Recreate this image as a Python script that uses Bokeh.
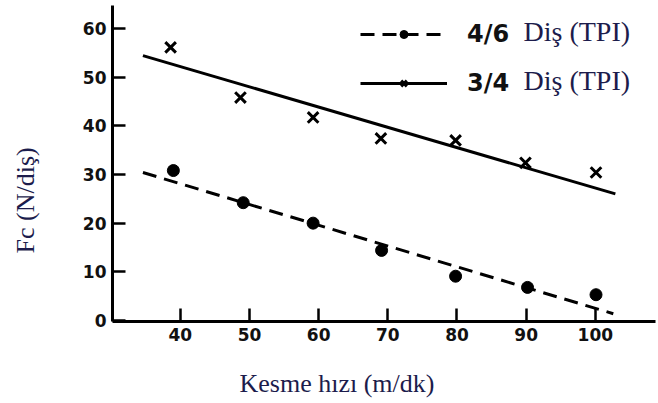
from bokeh.plotting import figure
from bokeh.models import Range1d, Legend, LegendItem, Label, FixedTicker, Title, LinearAxis
from bokeh.embed import file_html
from bokeh.resources import INLINE

# --- data ---
speed_46 = [39.0, 49.1, 59.2, 69.1, 79.8, 90.2, 100.1]
fc_46 = [30.8, 24.2, 20.0, 14.4, 9.1, 6.8, 5.3]
speed_34 = [38.6, 48.7, 59.2, 69.0, 79.8, 89.9, 100.1]
fc_34 = [56.1, 45.8, 41.7, 37.4, 37.0, 32.4, 30.4]

fit_x_46 = [34.6, 102.6]
fit_y_46 = [30.4, 1.4]
fit_x_34 = [34.6, 102.9]
fit_y_34 = [54.4, 26.0]

x_ticks = [40, 50, 60, 70, 80, 90, 100]
y_ticks = [0, 10, 20, 30, 40, 50, 60]

label_46 = "4/6"
label_34 = "3/4"
unit_label = "Diş (TPI)"
x_title = "Kesme hızı (m/dk)"
y_title = "Fc (N/diş)"

serif_color = "#1c1c4c"

X0, X1 = 30.2, 108.7
Y0, Y1 = -0.2, 64.7

p = figure(width=658, height=403,
           x_range=Range1d(X0, X1), y_range=Range1d(Y0, Y1),
           output_backend="svg", toolbar_location=None,
           min_border_left=112, min_border_right=3,
           min_border_top=5, min_border_bottom=82)
p.outline_line_color = None
p.grid.visible = False
p.background_fill_color = "white"
p.border_fill_color = "white"

for ax, ticks in ((p.xaxis, x_ticks), (p.yaxis, y_ticks)):
    ax.ticker = FixedTicker(ticks=ticks)
    ax.axis_line_width = 3
    ax.axis_line_color = "black"
    ax.major_tick_in = 13
    ax.major_tick_out = 0
    ax.major_tick_line_width = 2.5
    ax.minor_tick_line_color = None
    ax.major_label_text_font = "DejaVu Sans"
    ax.major_label_text_font_style = "bold"
    ax.major_label_text_font_size = "17px"
    ax.major_label_text_color = "#111111"
    ax.major_label_standoff = 6

# --- series ---
l46 = p.line(fit_x_46, fit_y_46, line_color="black", line_width=3, line_dash="14 8")
s46 = p.scatter(speed_46, fc_46, marker="circle", size=12, fill_color="black", line_color="black")
l34 = p.line(fit_x_34, fit_y_34, line_color="black", line_width=3)
s34 = p.scatter(speed_34, fc_34, marker="x", size=15, line_color="black", line_width=3)

legend = Legend(items=[LegendItem(label=label_46, renderers=[l46, s46]),
                       LegendItem(label=label_34, renderers=[l34, s34])],
                location=(248, 224))
legend.glyph_width = 87
legend.glyph_height = 20
legend.label_height = 20
legend.spacing = 21
legend.padding = 0
legend.margin = 0
legend.label_standoff = 20
legend.border_line_color = None
legend.background_fill_alpha = 0
legend.label_text_font = "DejaVu Sans"
legend.label_text_font_style = "bold"
legend.label_text_font_size = "24px"
legend.label_text_color = "#111111"
p.add_layout(legend, "center")

# serif parts of legend texts
for yy in (321 - 31, 321 - 80):
    p.add_layout(Label(x=523 - 112, y=yy, x_units="screen", y_units="screen",
                       text=unit_label, text_font="Liberation Serif",
                       text_font_size="28px", text_color=serif_color,
                       text_align="left", text_baseline="middle"))


def spacer(size, at):
    # invisible axis (white ticks on white border) that only reserves space
    a = LinearAxis(ticker=FixedTicker(ticks=[at]))
    a.axis_line_color = None
    a.major_tick_line_color = "white"
    a.minor_tick_line_color = None
    a.major_tick_in = 0
    a.major_tick_out = size
    a.major_label_text_color = None
    a.major_label_standoff = 0
    return a


# axis titles (spacer axes push them away from the frame)
p.add_layout(spacer(20, X1), "below")
xt = Title(text=x_title, align="left", offset=127, standoff=6,
           text_font="Liberation Serif", text_font_size="26px",
           text_font_style="normal", text_color=serif_color)
p.add_layout(xt, "below")

p.add_layout(spacer(37, Y0), "left")
yt = Title(text=y_title, align="left", offset=68, standoff=6,
           text_font="Liberation Serif", text_font_size="26px",
           text_font_style="normal", text_color=serif_color)
p.add_layout(yt, "left")

open("out.html", "w").write(file_html(p, INLINE))
